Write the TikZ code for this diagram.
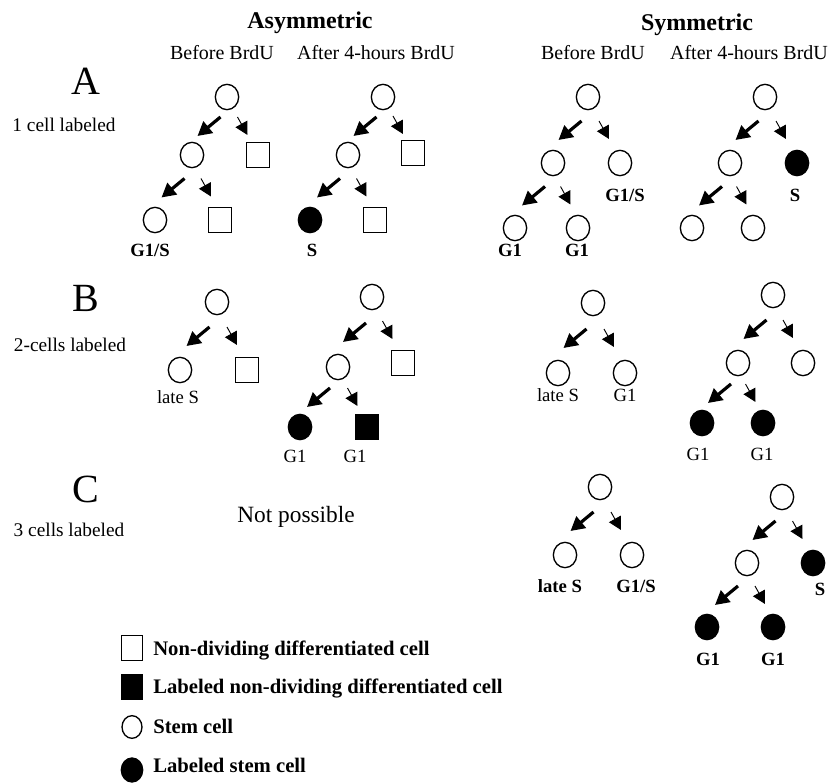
\documentclass[tikz,border=0pt]{standalone}
\usepackage{fontspec}
\setmainfont{Liberation Serif}
\usetikzlibrary{calc,shapes.geometric,arrows.meta}

\tikzset{
  stem/.style={ellipse, draw, line width=1pt, minimum width=17.5pt,
    minimum height=19pt, inner sep=0pt},
  stemlab/.style={stem, fill=black},
  diff/.style={rectangle, draw, line width=1pt, minimum width=17.5pt,
    minimum height=19pt, inner sep=0pt},
  difflab/.style={diff, fill=black},
  arrl/.style={line width=2.4pt, -{Triangle[length=10.5pt,width=11pt]}},
  arrr/.style={line width=0.7pt, -{Triangle[length=9.5pt,width=10pt]}},
  txt/.style={anchor=base, inner sep=0pt},
  head/.style={txt, font=\bfseries\fontsize{18}{20}\selectfont},
  colhead/.style={txt, font=\fontsize{15}{17}\selectfont},
  panel/.style={txt, font=\fontsize{30}{32}\selectfont},
  rowlab/.style={txt, font=\fontsize{14.5}{16}\selectfont},
  cellab/.style={txt, font=\fontsize{14}{16}\selectfont},
  legtxt/.style={anchor=base west, inner sep=0pt,
    font=\bfseries\fontsize{15.5}{17}\selectfont}
}

\begin{document}
\begin{tikzpicture}[x=0.75pt, y=-0.75pt]
  \useasboundingbox (0,0) rectangle (836,784);

  % headings
  \node[head] (hasym) at (310,29) {Asymmetric};
  \node[head] (hsym) at (697,31) {Symmetric};
  \node[colhead] (habef) at (222,60) {Before BrdU};
  \node[colhead] (haaft) at (376,60) {After 4-hours BrdU};
  \node[colhead] (hsbef) at (593,60) {Before BrdU};
  \node[colhead] (hsaft) at (749,60) {After 4-hours BrdU};

  % row labels
  \node[panel] (pA) at (86,95) {A};
  \node[rowlab] (rA) at (64,132) {1 cell labeled};
  \node[panel] (pB) at (86,312) {B};
  \node[rowlab] (rB) at (70,352) {2-cells labeled};
  \node[panel] (pC) at (86,503) {C};
  \node[rowlab] (rC) at (69,536) {3 cells labeled};
  \node[txt, font=\fontsize{17.5}{19}\selectfont] (np) at (296,522) {Not possible};

  % A, asymmetric, before
  \node[stem] (aab0) at (227,97) {};
  \node[stem] (aab1) at (192,155) {};
  \node[diff] (aab2) at (258,155) {};
  \node[stem] (aab3) at (155,220) {};
  \node[diff] (aab4) at (220,220) {};
  \node[cellab, font=\bfseries\fontsize{14}{16}\selectfont] at (150,257) {G1/S};
  % A, asymmetric, after
  \node[stem] (aaa0) at (383,97) {};
  \node[stem] (aaa1) at (348,155) {};
  \node[diff] (aaa2) at (413,153) {};
  \node[stemlab] (aaa3) at (310,220) {};
  \node[diff] (aaa4) at (375,220) {};
  \node[cellab, font=\bfseries\fontsize{14}{16}\selectfont] at (312,257) {S};
  % A, symmetric, before
  \node[stem] (sab0) at (588,97) {};
  \node[stem] (sab1) at (553,163) {};
  \node[stem] (sab2) at (620,163) {};
  \node[stem] (sab3) at (515,228) {};
  \node[stem] (sab4) at (578,228) {};
  \node[cellab, font=\bfseries\fontsize{14}{16}\selectfont] at (625,202) {G1/S};
  \node[cellab, font=\bfseries\fontsize{14}{16}\selectfont] at (510,257) {G1};
  \node[cellab, font=\bfseries\fontsize{14}{16}\selectfont] at (577,257) {G1};
  % A, symmetric, after
  \node[stem] (saa0) at (765,97) {};
  \node[stem] (saa1) at (730,163) {};
  \node[stemlab] (saa2) at (797,163) {};
  \node[stem] (saa3) at (692,228) {};
  \node[stem] (saa4) at (753,228) {};
  \node[cellab, font=\bfseries\fontsize{14}{16}\selectfont] at (795,202) {S};

  % B, asymmetric, before
  \node[stem] (abb0) at (217,302) {};
  \node[stem] (abb1) at (180,370) {};
  \node[diff] (abb2) at (247,370) {};
  \node[cellab] at (178,403) {late S};
  % B, asymmetric, after
  \node[stem] (aba0) at (372,297) {};
  \node[stem] (aba1) at (338,367) {};
  \node[diff] (aba2) at (403,363) {};
  \node[stemlab] (aba3) at (300,427) {};
  \node[difflab] (aba4) at (367,427) {};
  \node[cellab] at (295,462) {G1};
  \node[cellab] at (355,462) {G1};
  % B, symmetric, before
  \node[stem] (sbb0) at (593,303) {};
  \node[stem] (sbb1) at (558,373) {};
  \node[stem] (sbb2) at (625,373) {};
  \node[cellab] at (558,402) {late S};
  \node[cellab] at (625,402) {G1};
  % B, symmetric, after
  \node[stem] (sba0) at (773,295) {};
  \node[stem] (sba1) at (738,363) {};
  \node[stem] (sba2) at (803,363) {};
  \node[stemlab] (sba3) at (702,423) {};
  \node[stemlab] (sba4) at (763,423) {};
  \node[cellab] at (698,460) {G1};
  \node[cellab] at (762,460) {G1};

  % C, symmetric, before
  \node[stem] (scb0) at (600,487) {};
  \node[stem] (scb1) at (565,555) {};
  \node[stem] (scb2) at (632,555) {};
  \node[cellab, font=\bfseries\fontsize{14}{16}\selectfont] at (560,592) {late S};
  \node[cellab, font=\bfseries\fontsize{14}{16}\selectfont] at (636,592) {G1/S};
  % C, symmetric, after
  \node[stem] (sca0) at (782,497) {};
  \node[stem] (sca1) at (747,563) {};
  \node[stemlab] (sca2) at (813,563) {};
  \node[stemlab] (sca3) at (707,627) {};
  \node[stemlab] (sca4) at (773,627) {};
  \node[cellab, font=\bfseries\fontsize{14}{16}\selectfont] at (820,595) {S};
  \node[cellab, font=\bfseries\fontsize{14}{16}\selectfont] at (708,665) {G1};
  \node[cellab, font=\bfseries\fontsize{14}{16}\selectfont] at (773,665) {G1};

  % divisions
  \foreach \p/\l/\r in {aab0/aab1/aab2, aab1/aab3/aab4, aaa0/aaa1/aaa2,
      aaa1/aaa3/aaa4, sab0/sab1/sab2, sab1/sab3/sab4, saa0/saa1/saa2,
      saa1/saa3/saa4, abb0/abb1/abb2, aba0/aba1/aba2, aba1/aba3/aba4,
      sbb0/sbb1/sbb2, sba0/sba1/sba2, sba1/sba3/sba4, scb0/scb1/scb2,
      sca0/sca1/sca2, sca1/sca3/sca4} {
    \draw[arrl] ($(\p)!0.5!(\l) + (11,-9)$) -- ($(\p)!0.5!(\l) + (-12,10)$);
    \draw[arrr] ($(\p)!0.5!(\r) + (-5,-9)$) -- ($(\p)!0.5!(\r) + (5,9)$);
  }

  % legend
  \node[diff, minimum width=16pt] (kd) at (132,648) {};
  \node[legtxt] at (153,655) {Non-dividing differentiated cell};
  \node[difflab, minimum width=16pt] (kdl) at (132,687) {};
  \node[legtxt] at (153,693) {Labeled non-dividing differentiated cell};
  \node[stem, minimum width=15pt, minimum height=17pt] (ks) at (132,727) {};
  \node[legtxt] at (153,733) {Stem cell};
  \node[stemlab, minimum width=16pt, minimum height=18pt] (ksl) at (132,770) {};
  \node[legtxt] at (153,772) {Labeled stem cell};
\end{tikzpicture}
\end{document}
